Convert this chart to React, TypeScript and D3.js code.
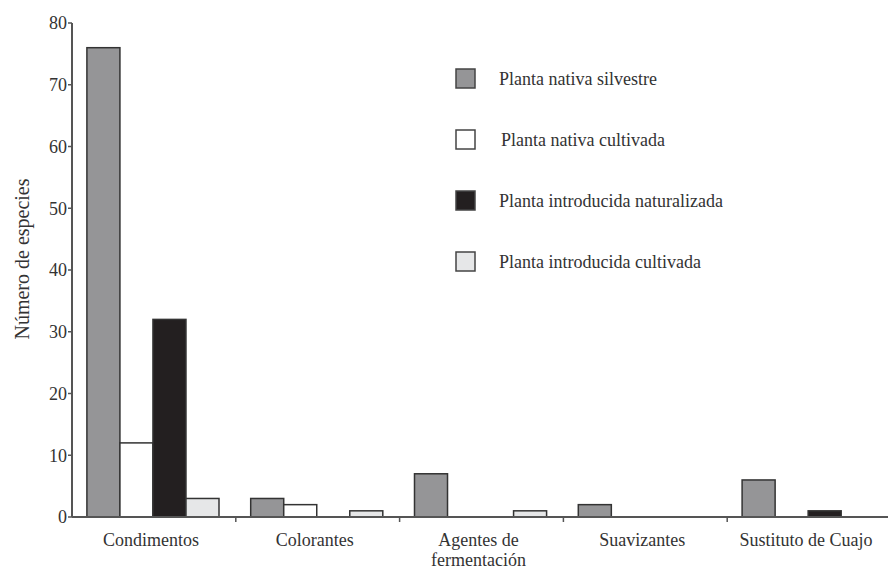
import React from "react";
import * as d3 from "d3";

const categories = ["Condimentos", "Colorantes", "Agentes de fermentación", "Suavizantes", "Sustituto de Cuajo"];
const categoryLines = [["Condimentos"], ["Colorantes"], ["Agentes de", "fermentación"], ["Suavizantes"], ["Sustituto de Cuajo"]];
const seriesNames = ["Planta nativa silvestre", "Planta nativa cultivada", "Planta introducida naturalizada", "Planta introducida cultivada"];
const nativaSilvestre = [76, 3, 7, 2, 6];
const nativaCultivada = [12, 2, 0, 0, 0];
const introducidaNaturalizada = [32, 0, 0, 0, 1];
const introducidaCultivada = [3, 1, 1, 0, 0];
const yTicks = [0, 10, 20, 30, 40, 50, 60, 70, 80];
const seriesColors = ["#959597", "#ffffff", "#231f20", "#e6e7e8"];

const W = 888, H = 570;
const left = 72, right = 891, top = 23, bottom = 517;
const font = "Liberation Serif";

export default function App() {
  const series = [nativaSilvestre, nativaCultivada, introducidaNaturalizada, introducidaCultivada];
  const x0 = d3.scaleBand<string>().domain(categories).range([left, right]).paddingInner(0).paddingOuter(0);
  const x1 = d3.scaleBand<string>().domain(seriesNames).range([0, x0.bandwidth()]).paddingInner(0).paddingOuter(0.48).align(0.47);
  const y = d3.scaleLinear().domain([0, 80]).range([bottom, top]);
  const axisColor = "#555";
  const txt = { fontFamily: font, fill: "#333" } as React.CSSProperties;

  return (
    <svg width={W} height={H} style={{ position: "absolute", left: 0, top: 0, background: "#fff" }}>
      {categories.map((c, ci) =>
        series.map((s, si) =>
          s[ci] > 0 ? (
            <rect
              key={c + si}
              x={(x0(c) as number) + (x1(seriesNames[si]) as number)}
              y={y(s[ci])}
              width={x1.bandwidth()}
              height={y(0) - y(s[ci])}
              fill={seriesColors[si]}
              stroke="#333"
              strokeWidth={1.5}
            />
          ) : null
        )
      )}
      <line x1={left} x2={left} y1={top} y2={bottom} stroke={axisColor} strokeWidth={2} />
      {yTicks.map((t) => (
        <g key={t}>
          <line x1={left - 4} x2={left} y1={y(t)} y2={y(t)} stroke={axisColor} strokeWidth={1.5} />
          <text x={left - 5} y={y(t)} dy="0.35em" textAnchor="end" style={{ ...txt, fontSize: 18 }}>
            {t}
          </text>
        </g>
      ))}
      <line x1={left} x2={right} y1={bottom} y2={bottom} stroke={axisColor} strokeWidth={2} />
      {categories.slice(1).map((c) => (
        <line key={c} x1={x0(c) as number} x2={x0(c) as number} y1={bottom} y2={bottom + 5} stroke={axisColor} strokeWidth={1.5} />
      ))}
      {categories.map((c, ci) => (
        <text key={c} textAnchor="middle" style={{ ...txt, fontSize: 18 }}>
          {categoryLines[ci].map((ln, li) => (
            <tspan key={li} x={(x0(c) as number) + x0.bandwidth() / 2 - 3} y={546 + li * 20}>
              {ln}
            </tspan>
          ))}
        </text>
      ))}
      <text
        transform={`translate(29, 259) rotate(-90)`}
        textAnchor="middle"
        style={{ ...txt, fontSize: 20 }}
      >
        Número de especies
      </text>
      {seriesNames.map((n, i) => (
        <g key={n} transform={`translate(456, ${69 + i * 61})`}>
          <rect x={0} y={0} width={19} height={19} fill={seriesColors[i]} stroke="#444" strokeWidth={1.5} />
          <text x={43 + (i === 1 ? 2 : 0)} y={10} dy="0.35em" style={{ ...txt, fontSize: 18 }}>
            {n}
          </text>
        </g>
      ))}
    </svg>
  );
}
